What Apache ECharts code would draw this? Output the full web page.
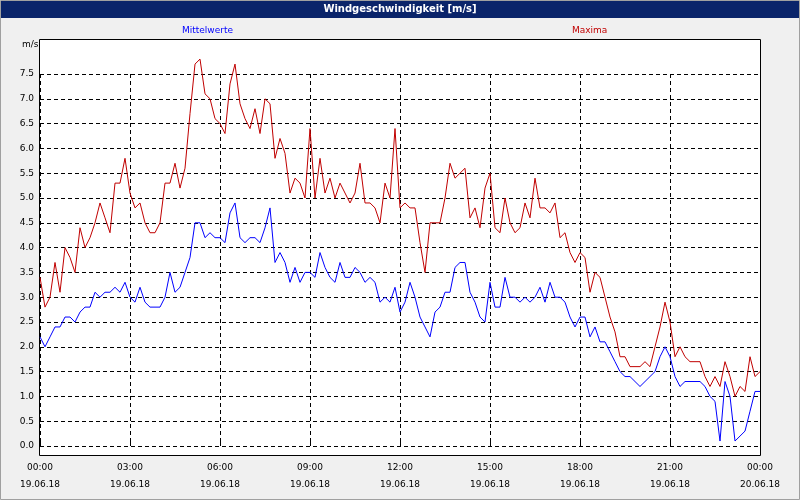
<!DOCTYPE html>
<html><head><meta charset="utf-8">
<script src="https://cdn.jsdelivr.net/npm/echarts@6/dist/echarts.min.js"></script>
<style>html,body{margin:0;padding:0;background:#f0f0f0}#c{width:800px;height:500px}</style>
</head><body><div id="c"></div>
<script>
const maxima = [3.4,2.8,3.0,3.7,3.1,4.0,3.8,3.5,4.4,4.0,4.2,4.5,4.9,4.6,4.3,5.3,5.3,5.8,5.1,4.8,4.9,4.5,4.3,4.3,4.5,5.3,5.3,5.7,5.2,5.6,6.7,7.7,7.8,7.1,7.0,6.6,6.5,6.3,7.3,7.7,6.9,6.6,6.4,6.8,6.3,7.0,6.9,5.8,6.2,5.9,
5.1,5.4,5.3,5.0,6.4,5.0,5.8,5.1,5.4,5.0,5.3,5.1,4.9,5.1,5.7,4.9,4.9,4.8,4.5,5.3,5.0,6.4,4.8,4.9,4.8,4.8,4.1,3.5,4.5,4.5,4.5,5.0,5.7,5.4,5.5,5.6,4.6,4.8,4.4,5.2,5.5,4.4,4.3,5.0,4.5,4.3,4.4,
4.9,4.6,5.4,4.8,4.8,4.7,4.9,4.2,4.3,3.9,3.7,3.9,3.8,3.1,3.5,3.4,3.0,2.6,2.3,1.8,1.8,1.6,1.6,1.6,1.7,1.6,2.0,2.4,2.9,2.5,1.8,2.0,1.8,1.7,1.7,1.7,1.4,1.2,1.4,1.2,1.7,1.4,1.0,1.2,1.1,1.8,1.4,1.5];
const mittel = [2.2,2.0,2.2,2.4,2.4,2.6,2.6,2.5,2.7,2.8,2.8,3.1,3.0,3.1,3.1,3.2,3.1,3.3,3.0,2.9,3.2,2.9,2.8,2.8,2.8,3.0,3.5,3.1,3.2,3.5,3.8,4.5,4.5,4.2,4.3,4.2,4.2,4.1,4.7,4.9,4.2,4.1,4.2,4.2,4.1,4.4,4.8,3.7,3.9,3.7,
3.3,3.6,3.3,3.5,3.5,3.4,3.9,3.6,3.4,3.3,3.7,3.4,3.4,3.6,3.5,3.3,3.4,3.3,2.9,3.0,2.9,3.2,2.7,2.9,3.3,3.0,2.6,2.4,2.2,2.7,2.8,3.1,3.1,3.6,3.7,3.7,3.1,2.9,2.6,2.5,3.3,2.8,2.8,3.4,3.0,3.0,2.9,
3.0,2.9,3.0,3.2,2.9,3.3,3.0,3.0,2.9,2.6,2.4,2.6,2.6,2.2,2.4,2.1,2.1,1.9,1.7,1.5,1.4,1.4,1.3,1.2,1.3,1.4,1.5,1.8,2.0,1.8,1.4,1.2,1.3,1.3,1.3,1.3,1.2,1.0,0.9,0.1,1.3,1.0,0.1,0.2,0.3,0.7,1.1,1.1];
const tickLabels = ['00:00\n19.06.18','03:00\n19.06.18','06:00\n19.06.18','09:00\n19.06.18','12:00\n19.06.18','15:00\n19.06.18','18:00\n19.06.18','21:00\n19.06.18','00:00\n20.06.18'];
const cats = maxima.map((_, i) => String(i));
const F = 'DejaVu Sans';
const chart = echarts.init(document.getElementById('c'));
chart.setOption({
  animation: false,
  backgroundColor: '#f0f0f0',
  graphic: [
    {type:'rect', z:-10, shape:{x:0.5,y:0.5,width:799,height:499}, style:{fill:'#f0f0f0',stroke:'#a0a0a0'}},
    {type:'rect', z:-5, shape:{x:1,y:1,width:798,height:17}, style:{fill:'#0a246a'}},
    {type:'text', z:10, left:'center', top:4, style:{text:'Windgeschwindigkeit [m/s]', fill:'#fff', font:'bold 10px '+F}},
    {type:'rect', z:-1, shape:{x:39.5,y:39.5,width:721,height:416}, style:{fill:'#fff',stroke:'#000',lineWidth:1}},
    {type:'text', left:182, top:26, style:{text:'Mittelwerte', fill:'#0000ff', font:'9px '+F}},
    {type:'text', left:572, top:26, style:{text:'Maxima', fill:'#c00000', font:'9px '+F}},
    {type:'text', left:22, top:40, style:{text:'m/s', fill:'#000', font:'9px '+F}}
  ],
  grid: {left:40, right:40, top:74, bottom:54, show:false},
  xAxis: {
    type:'category', data:cats, boundaryGap:false,
    axisLine:{show:false},
    axisTick:{show:true, interval:17, length:-4, lineStyle:{color:'#000'}},
    axisLabel:{interval:17, margin:13, color:'#000', fontFamily:F, fontSize:9, lineHeight:17,
      formatter:(v,i)=>tickLabels[Math.round(i/18)] || ''},
    splitLine:{show:true, interval:17, lineStyle:{color:'#000', type:[4,3]}}
  },
  yAxis: {
    type:'value', min:0, max:7.5, interval:0.5,
    axisLine:{show:false}, axisTick:{show:false},
    axisLabel:{color:'#000', fontFamily:F, fontSize:9, margin:6, formatter:v=>v.toFixed(1)},
    splitLine:{show:true, lineStyle:{color:'#000', type:[4,3]}}
  },
  series: [
    {name:'Maxima', type:'line', data:maxima, showSymbol:false, clip:false, lineStyle:{color:'#c00000', width:1}, itemStyle:{color:'#c00000'}},
    {name:'Mittelwerte', type:'line', data:mittel, showSymbol:false, clip:false, lineStyle:{color:'#0000ff', width:1}, itemStyle:{color:'#0000ff'}}
  ]
});
</script></body></html>
